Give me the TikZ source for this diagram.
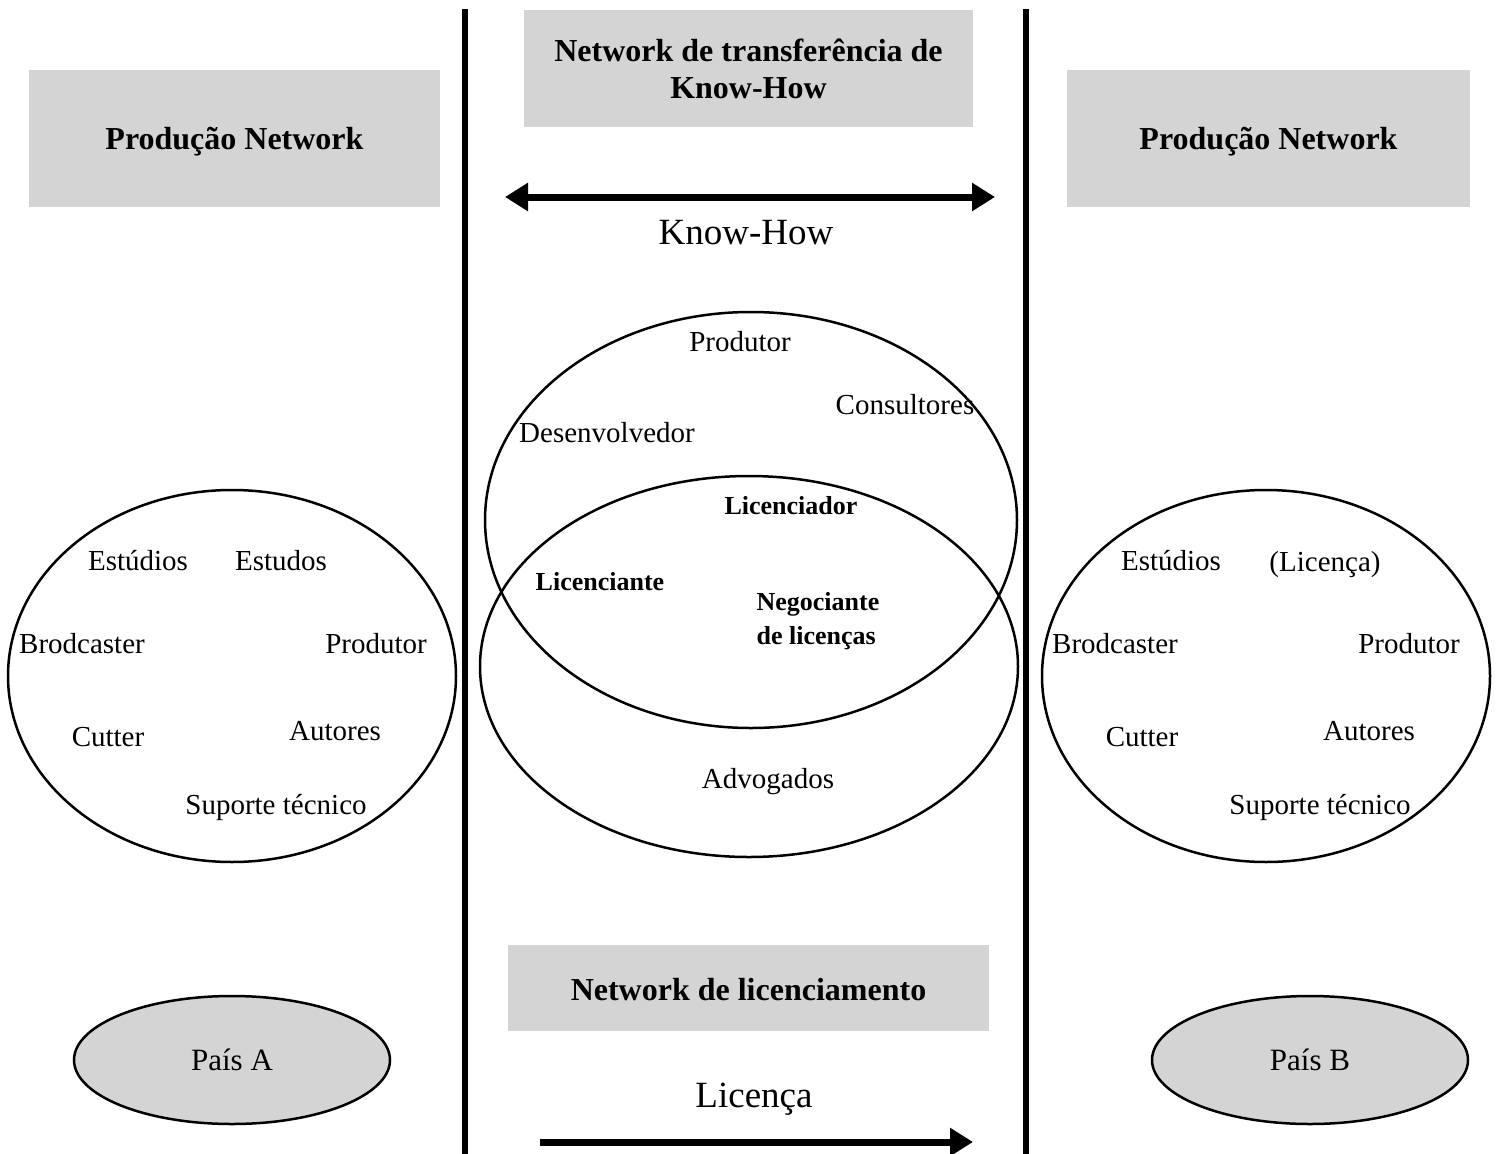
\documentclass[tikz,border=0pt]{standalone}
\usepackage{fontspec}
\setmainfont{Liberation Serif}
\usetikzlibrary{shapes.geometric,arrows.meta}
\definecolor{boxgray}{RGB}{212,212,212}
\tikzset{
  titlebox/.style={fill=boxgray, draw=none, inner sep=0pt},
  titletext/.style={inner sep=0pt, align=center,
    font=\fontsize{32}{37}\selectfont\bfseries},
  lbl/.style={inner sep=0pt, font=\fontsize{29}{34}\selectfont},
  biglbl/.style={inner sep=0pt, font=\fontsize{37}{42}\selectfont},
  boldlbl/.style={inner sep=0pt, align=left, font=\fontsize{26}{34}\selectfont\bfseries},
  setring/.style={ellipse, draw, line width=2.5pt, inner sep=0pt},
  country/.style={ellipse, draw, fill=boxgray, line width=2.5pt, inner sep=0pt,
    font=\fontsize{31}{36}\selectfont},
  divider/.style={line width=6pt},
  flow/.style={line width=7pt},
  flowtip/.tip={Triangle[length=23pt,width=27pt]}
}
\begin{document}
\begin{tikzpicture}[x=1pt,y=-1pt]
\useasboundingbox (0,0) rectangle (1497,1154);

% column dividers
\coordinate (d1t) at (465,9);
\coordinate (d1b) at (465,1154);
\coordinate (d2t) at (1026,9);
\coordinate (d2b) at (1026,1154);
\draw[divider] (d1t) -- (d1b);
\draw[divider] (d2t) -- (d2b);

% header boxes
\node[titlebox, minimum width=411pt, minimum height=137pt] (prodA) at (234.5,138.5) {};
\node[titletext] (prodAtxt) at ([yshift=-3pt]prodA.center) {Produção Network};
\node[titlebox, minimum width=403pt, minimum height=137pt] (prodB) at (1268.5,138.5) {};
\node[titletext] (prodBtxt) at ([yshift=-3pt]prodB.center) {Produção Network};
\node[titlebox, minimum width=449pt, minimum height=117pt] (khbox) at (748.5,68.5) {};
\node[titletext] (khboxtxt) at ([yshift=0pt]khbox.center) {Network de transferência de\\Know-How};
\node[titlebox, minimum width=481pt, minimum height=86pt] (licbox) at (748.5,988) {};
\node[titletext] (licboxtxt) at ([yshift=-2pt]licbox.center) {Network de licenciamento};

% know-how exchange
\coordinate (khL) at (505,197);
\coordinate (khR) at (995,197);
\draw[flow, flowtip-flowtip] (khL) -- (khR);
\node[biglbl] (khtxt) at (746,233) {Know-How};

% licence flow
\node[biglbl] (lictxt) at (754,1099) {Licença};
\coordinate (licL) at (540,1142);
\coordinate (licR) at (973,1142);
\draw[flow, -flowtip] (licL) -- (licR);

% central overlapping sets
\node[setring, minimum width=532pt, minimum height=416pt] (knowset) at (751,520) {};
\node[setring, minimum width=538pt, minimum height=381pt] (licset) at (749,666.5) {};
\node[lbl] (c1) at (740,342) {Produtor};
\node[lbl] (c2) at (905,405) {Consultores};
\node[lbl] (c3) at (607,433) {Desenvolvedor};
\node[boldlbl] (c4) at (791,506) {Licenciador};
\node[boldlbl] (c5) at (600,582) {Licenciante};
\node[boldlbl] (c6) at (818,621) {Negociante\\de licenças};
\node[lbl] (c7) at (768,782) {Advogados};

% production network, country A
\node[setring, minimum width=448pt, minimum height=372pt] (netA) at (232,676) {};
\node[lbl] (a1) at (138,561) {Estúdios};
\node[lbl] (a2) at (281,561) {Estudos};
\node[lbl] (a3) at (82,644) {Brodcaster};
\node[lbl] (a4) at (376,644) {Produtor};
\node[lbl] (a5) at (108,737) {Cutter};
\node[lbl] (a6) at (335,731) {Autores};
\node[lbl] (a7) at (276,807) {Suporte técnico};

% production network, country B
\node[setring, minimum width=448pt, minimum height=372pt] (netB) at (1266,676) {};
\node[lbl] (b1) at (1171,561) {Estúdios};
\node[lbl] (b2) at (1325,565) {(Licença)};
\node[lbl] (b3) at (1115,644) {Brodcaster};
\node[lbl] (b4) at (1409,644) {Produtor};
\node[lbl] (b5) at (1142,737) {Cutter};
\node[lbl] (b6) at (1369,731) {Autores};
\node[lbl] (b7) at (1320,807) {Suporte técnico};

% countries
\node[country, minimum width=316pt, minimum height=128pt] (paisA) at (232,1060) {País A};
\node[country, minimum width=316pt, minimum height=128pt] (paisB) at (1310,1060) {País B};
\end{tikzpicture}
\end{document}
